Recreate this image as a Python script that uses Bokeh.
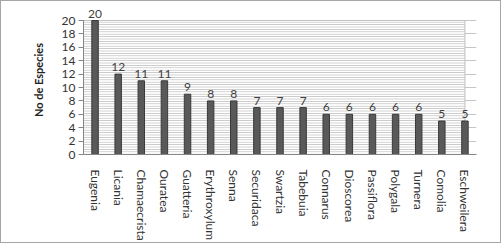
from bokeh.plotting import figure
from bokeh.models import ColumnDataSource, Range1d, FixedTicker, LabelSet
from bokeh.embed import file_html
from bokeh.resources import INLINE
from bokeh.core.properties import value

genera = ["Eugenia", "Licania", "Chamaecrista", "Ouratea", "Guatteria", "Erythroxylum",
          "Senna", "Securidaca", "Swartzia", "Tabebuia", "Connarus", "Dioscorea",
          "Passiflora", "Polygala", "Turnera", "Comolia", "Eschweilera"]
counts = [20, 12, 11, 11, 9, 8, 8, 7, 7, 7, 6, 6, 6, 6, 6, 5, 5]
y_ticks = [0, 2, 4, 6, 8, 10, 12, 14, 16, 18, 20]

src = ColumnDataSource(dict(x=genera, y=counts, lab=[str(c) for c in counts]))

p = figure(x_range=genera, y_range=Range1d(0, 22.24), width=501, height=243,
           output_backend="svg", toolbar_location=None,
           min_border_left=82, min_border_right=26, min_border_top=4, min_border_bottom=90)
p.styles = {"border": "1px solid #a6a6a6"}
p.outline_line_color = None
p.background_fill_color = "white"

# striped back wall
p.quad(left=[-0.5], right=[len(genera) - 0.5], bottom=[0], top=[y_ticks[-1]],
       fill_color="white", line_color="#bfbfbf", line_width=1,
       hatch_pattern="horizontal_line", hatch_scale=2.4, hatch_color="#bdbdbd", hatch_weight=1)

p.vbar(x="x", top="y", width=0.28, source=src, fill_color="#595959", line_color="#3a3a3a", line_width=1)

labels = LabelSet(x="x", y="y", text="lab", source=src, text_align="center", text_baseline="bottom",
                  y_offset=3, text_font=value("Lato"), text_font_size="12px", text_color="#404040")
p.add_layout(labels)

p.xgrid.grid_line_color = None
p.ygrid.grid_line_color = "#a0a0a0"
p.ygrid.grid_line_alpha = 0.6
p.ygrid.ticker = FixedTicker(ticks=y_ticks)

p.yaxis.ticker = FixedTicker(ticks=y_ticks)
p.yaxis.bounds = (0, 20)
p.yaxis.axis_line_color = "#868686"
p.yaxis.major_tick_line_color = "#868686"
p.yaxis.major_tick_out = 5
p.yaxis.major_tick_in = 0
p.yaxis.minor_tick_line_color = None
p.yaxis.major_label_text_font = "Lato"
p.yaxis.major_label_text_font_size = "12px"
p.yaxis.major_label_text_color = "#333333"
p.yaxis.major_label_standoff = 3
p.yaxis.axis_label = "No de Especies"
p.yaxis.axis_label_text_font = "Lato"
p.yaxis.axis_label_text_font_style = "bold"
p.yaxis.axis_label_text_font_size = "11px"
p.yaxis.axis_label_text_color = "#222222"
p.yaxis.axis_label_standoff = 14

p.xaxis.axis_line_color = "#868686"
p.xaxis.major_tick_line_color = None
p.xaxis.minor_tick_line_color = None
p.xaxis.major_label_orientation = "vertical"
p.xaxis.major_label_text_font = "Lato"
p.xaxis.major_label_text_font_size = "12px"
p.xaxis.major_label_text_color = "#333333"
p.xaxis.major_label_standoff = 9

open("out.html", "w").write(file_html(p, INLINE))
